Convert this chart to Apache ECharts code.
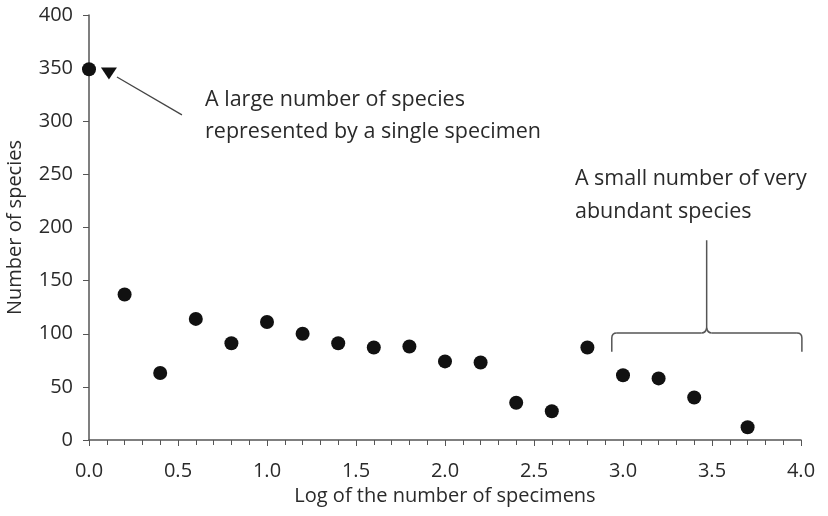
<!DOCTYPE html>
<html>
<head>
<meta charset="utf-8">
<script src="https://cdn.jsdelivr.net/npm/echarts@6/dist/echarts.min.js"></script>
<style>
html,body{margin:0;padding:0;background:#fff;}
#chart{width:828px;height:516px;}
</style>
</head>
<body>
<div id="chart"></div>
<script>
// Data (log of number of specimens, number of species)
const logSpecimens = [0.0, 0.2, 0.4, 0.6, 0.8, 1.0, 1.2, 1.4, 1.6, 1.8, 2.0, 2.2, 2.4, 2.6, 2.8, 3.0, 3.2, 3.4, 3.7];
const speciesCount = [349, 137, 63, 114, 91, 111, 100, 91, 87, 88, 74, 73, 35, 27, 87, 61, 58, 40, 12];

const xTicks = ['0.0', '0.5', '1.0', '1.5', '2.0', '2.5', '3.0', '3.5', '4.0'];
const xAxisTitle = 'Log of the number of specimens';
const yAxisTitle = 'Number of species';

// Annotation texts and anchor positions (data coordinates)
const note1Lines = ['A large number of species', 'represented by a single specimen'];
const note1Anchor = [0.652, 275];
const arrowFrom = [0.522, 306];
const arrowTo = [0.157, 341.6];
const arrowHead = [0.112, 346];
const note2Lines = ['A small number of very', 'abundant species'];
const note2Anchor = [2.73, 199.5];
const bracketX = [2.937, 3.47, 4.005];
const bracketY = { end: 83, bar: 100.7, peak: 105.4, top: 188 };

const FONT = '"Open Sans", Lato, sans-serif';
const TXT = '#2a2a2a';

const chart = echarts.init(document.getElementById('chart'), null, {renderer: 'canvas'});
const data = logSpecimens.map((x, i) => [x, speciesCount[i]]);

chart.setOption({
  animation: false,
  backgroundColor: '#fff',
  grid: {left: 89, right: 27, top: 15, bottom: 76, containLabel: false, outerBoundsMode: 'none'},
  xAxis: {
    type: 'value', min: 0, max: 4, interval: 0.5,
    name: xAxisTitle, nameLocation: 'middle', nameGap: 45,
    nameTextStyle: {fontFamily: FONT, fontSize: 20, color: TXT},
    axisLine: {show: true, lineStyle: {color: '#555', width: 1.5}},
    axisTick: {show: true, inside: false, length: 6, lineStyle: {color: '#555'}},
    minorTick: {show: true, splitNumber: 5, length: 5, lineStyle: {color: '#555'}},
    splitLine: {show: false},
    axisLabel: {fontFamily: FONT, fontSize: 20, color: TXT, margin: 21,
      formatter: (v) => xTicks[Math.round(v / 0.5)] }
  },
  yAxis: {
    type: 'value', min: 0, max: 400, interval: 50,
    name: yAxisTitle, nameLocation: 'middle', nameGap: 64, nameRotate: 90,
    nameTextStyle: {fontFamily: FONT, fontSize: 20, color: TXT},
    axisLine: {show: true, lineStyle: {color: '#555', width: 1.5}},
    axisTick: {show: true, inside: false, length: 6, lineStyle: {color: '#555'}},
    splitLine: {show: false},
    axisLabel: {fontFamily: FONT, fontSize: 20, color: TXT, margin: 16}
  },
  series: [{
    type: 'scatter',
    data: data,
    symbol: 'circle',
    symbolSize: 14,
    itemStyle: {color: '#111', opacity: 1}
  }]
});

function px(p) { return chart.convertToPixel({gridIndex: 0}, p); }

function drawAnnotations() {
  const a0 = px(arrowFrom), a1 = px(arrowTo), ah = px(arrowHead);
  const n1 = px(note1Anchor), n2 = px(note2Anchor);
  const L = px([bracketX[0], bracketY.end]);
  const R = px([bracketX[2], bracketY.end]);
  const barY = px([bracketX[1], bracketY.bar])[1];
  const mid = px([bracketX[1], bracketY.bar]);
  const peak = px([bracketX[1], bracketY.peak]);
  const top = px([bracketX[1], bracketY.top]);
  const r = 5;
  const st = {stroke: '#555', lineWidth: 1.5, fill: null};
  chart.setOption({
    graphic: [
      {type: 'line', shape: {x1: a0[0], y1: a0[1], x2: a1[0], y2: a1[1]},
       style: {stroke: '#444', lineWidth: 1.3}},
      {type: 'polygon', shape: {points: [[ah[0] - 8, ah[1] - 5], [ah[0] + 8, ah[1] - 5], [ah[0], ah[1] + 7]]},
       style: {fill: '#111'}},
      {type: 'text', x: n1[0], y: n1[1], style: {
        text: note1Lines.join('\n'), font: '21.5px ' + FONT, fill: TXT, lineHeight: 32,
        textAlign: 'left', textVerticalAlign: 'bottom'}},
      {type: 'text', x: n2[0], y: n2[1], style: {
        text: note2Lines.join('\n'), font: '21.5px ' + FONT, fill: TXT, lineHeight: 33,
        textAlign: 'left', textVerticalAlign: 'bottom'}},
      // bracket: left leg
      {type: 'line', shape: {x1: L[0], y1: L[1], x2: L[0], y2: barY + r}, style: st},
      {type: 'bezierCurve', shape: {x1: L[0], y1: barY + r, cpx1: L[0], cpy1: barY, x2: L[0] + r, y2: barY}, style: st},
      {type: 'line', shape: {x1: L[0] + r, y1: barY, x2: mid[0] - 5, y2: barY}, style: st},
      {type: 'bezierCurve', shape: {x1: mid[0] - 5, y1: barY, cpx1: mid[0] - 1, cpy1: barY, x2: mid[0], y2: peak[1]}, style: st},
      {type: 'bezierCurve', shape: {x1: mid[0], y1: peak[1], cpx1: mid[0] + 1, cpy1: barY, x2: mid[0] + 5, y2: barY}, style: st},
      {type: 'line', shape: {x1: mid[0] + 5, y1: barY, x2: R[0] - r, y2: barY}, style: st},
      {type: 'bezierCurve', shape: {x1: R[0] - r, y1: barY, cpx1: R[0], cpy1: barY, x2: R[0], y2: barY + r}, style: st},
      {type: 'line', shape: {x1: R[0], y1: barY + r, x2: R[0], y2: R[1]}, style: st},
      {type: 'line', shape: {x1: top[0], y1: top[1], x2: peak[0], y2: peak[1]}, style: st}
    ]
  });
}
drawAnnotations();
</script>
</body>
</html>
